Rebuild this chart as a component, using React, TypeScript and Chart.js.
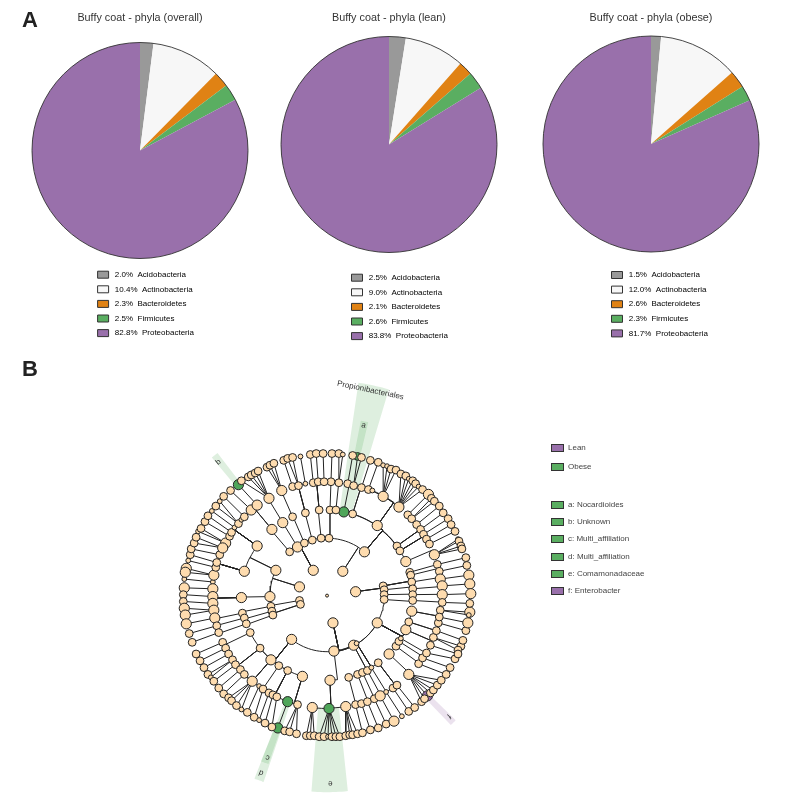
import React, { useEffect, useRef } from "react";
import { Chart, registerables } from "chart.js";

Chart.register(...registerables);

/* ---------- Panel A data ---------- */
const phylumNames = ["Acidobacteria", "Actinobacteria", "Bacteroidetes", "Firmicutes", "Proteobacteria"];
const phylumColors = ["#999999", "#f7f7f7", "#e08214", "#5aae61", "#9970ab"];
const overallShares = [2.0, 10.4, 2.3, 2.5, 82.8];
const leanShares = [2.5, 9.0, 2.1, 2.6, 83.8];
const obeseShares = [1.5, 12.0, 2.6, 2.3, 81.7];

/* ---------- Panel B data: taxa as [x, y, abundance class, children, enriched in] relative to the root ---------- */
type N = any[];
const rootTaxon: N = [0, 0, 0];

const cladeUpperRight: N = [16, -25, 3, [
  [2, -59, 2, [
    [3, -88, 2, [[4, -117, 2, [[5, -146, 2]]]]],
    [9, -88, 2, [[12, -116, 2, [[12, -146, 2], [16, -145, 1]]]]],
  ]],
  [38, -45, 3, [
    [17, -86, 3, [[21, -115, 2, [[26, -144, 2]]]], "O"],
    [26, -84, 2, [
      [27, -113, 2, [[31, -143, 2, [], "O"], [35, -142, 2]]],
      [35, -111, 2, [[44, -139, 2]]],
    ]],
    [51, -72, 3, [
      [42, -109, 2, [[52, -137, 2]]],
      [46, -108, 1],
      [57, -102, 3, [[57, -134, 1], [61, -133, 1], [65, -130, 2], [70, -129, 2]]],
      [73, -91, 3, [[75, -125, 2], [80, -123, 2], [83, -120, 1], [87, -118, 2], [90, -115, 2], [93, -112, 1], [97, -109, 2]]],
    ]],
    [71, -51, 2, [
      [82, -83, 2, [[103, -104, 3]]],
      [86, -79, 2, [[106, -100, 2], [109, -97, 2]]],
      [91, -73, 2, [[114, -92, 2]]],
    ]],
    [74, -46, 2, [
      [95, -68, 2, [[118, -85, 2]]],
      [98, -63, 2, [[123, -79, 2]]],
      [101, -58, 2, [[126, -73, 2]]],
      [104, -53, 2, [[130, -66, 2]]],
    ]],
    [80, -35, 3, [
      [109, -42, 3, [[133, -58, 1], [134, -56, 2], [136, -51, 2], [137, -48, 2]]],
    ]],
  ]],
]];

const cladeNearTop: N = [-14, -26, 3, [
  [-38, -45, 2, [[-56, -68, 3, [
    [-77, -88, 3, [[-98, -108, 2]]],
    [-71, -93, 3, [[-90, -114, 3, [], "O"]]],
  ]]]],
  [-30, -50, 3, [[-45, -75, 3, [[-59, -100, 3, [[-87, -118, 2], [-80, -122, 2], [-77, -124, 2], [-73, -126, 2], [-70, -128, 2]]]]]]],
  [-23, -54, 2, [[-35, -81, 2, [[-46, -108, 3, [[-61, -132, 2], [-58, -134, 2], [-54, -136, 2]]]]]]],
  [-15, -57, 2, [[-22, -85, 2, [
    [-35, -112, 2, [[-44, -139, 2]]],
    [-29, -113, 2, [[-40, -141, 2], [-35, -142, 2]]],
    [-22, -115, 1, [[-27, -143, 1]]],
  ]]]],
  [-6, -59, 2, [[-8, -88, 2, [
    [-14, -116, 2, [[-17, -145, 2]]],
    [-9, -117, 2, [[-11, -146, 2]]],
    [-3, -117, 2, [[-4, -146, 2]]],
  ]]]],
]];

const cladeLeft: N = [-28, -9, 3, [
  [-52, -26, 3, [
    [-71, -51, 3, [
      [-103, -54, 3, [[-131, -66, 1], [-128, -69, 2]]],
      [-99, -61, 2, [[-124, -76, 2]]],
      [-97, -65, 2, [[-121, -82, 2]]],
      [-94, -70, 1, [[-117, -87, 1]]],
      [-90, -74, 2, [[-113, -92, 2], [-109, -97, 1]]],
      [-87, -78, 1],
      [-84, -81, 2, [[-105, -102, 2]]],
    ]],
    [-84, -25, 3, [
      [-116, -14, 1, [[-145, -17, 1]]],
      [-115, -21, 3, [[-143, -28, 3], [-144, -24, 3]]],
      [-113, -29, 2, [[-141, -36, 1]]],
      [-112, -34, 2, [[-139, -42, 2]]],
      [-109, -42, 2, [[-138, -48, 2]]],
      [-106, -49, 3, [[-135, -54, 2], [-133, -60, 2]]],
    ]],
  ]],
  [-58, 1, 3, [[-87, 2, 3, [
    [-116, -7, 3, [[-145, -8, 3]]],
    [-116, 1, 3, [[-146, -1, 2]]],
    [-116, 8, 3, [[-146, 6, 2]]],
    [-115, 15, 3, [[-145, 13, 3], [-144, 20, 3]]],
  ]]]],
]];

const cladeLeftSmallA: N = [-28, 5, 2, [
  [-57, 11, 2, [[-86, 18, 2, [[-114, 23, 3, [[-143, 29, 3]]]]]]],
]];
const cladeLeftSmallB: N = [-27, 9, 2, [
  [-56, 16, 2, [[-84, 23, 2, [[-112, 31, 2, [[-140, 39, 2]]]]]]],
  [-55, 20, 2, [[-82, 29, 2, [[-110, 38, 2, [[-137, 48, 2]]]]]]],
]];

const cladeRight: N = [29, -4, 3, [
  [57, -10, 2, [
    [84, -24, 2, [[112, -32, 2, [[141, -39, 2]]]]],
    [85, -21, 2, [[114, -25, 2, [[142, -31, 2]]]]],
    [86, -14, 2, [[115, -17, 3, [[144, -21, 3]]]]],
  ]],
  [58, -6, 2, [[87, -7, 2, [[117, -10, 3, [[145, -12, 3]]]]]]],
  [58, -1, 2, [[87, -1, 2, [[117, -1, 3, [[146, -2, 3]]]]]]],
]];

const cladeBottom: N = [6, 28, 3, [
  [-36, 45, 3, [
    [-78, 38, 2, [[-106, 48, 2, [[-133, 60, 2]]]]],
    [-68, 54, 2, [
      [-103, 54, 2, [[-129, 67, 2]]],
      [-100, 60, 2, [[-125, 74, 2]]],
      [-96, 66, 2, [[-121, 81, 2], [-118, 84, 1]]],
    ]],
    [-57, 66, 3, [
      [-93, 71, 2, [[-115, 88, 2]]],
      [-88, 76, 2, [[-110, 95, 2]]],
      [-84, 81, 2, [[-105, 101, 2]]],
    ]],
    [-49, 72, 2, [[-76, 88, 3, [[-100, 105, 2], [-97, 108, 2], [-92, 113, 2], [-87, 117, 1]]]]],
    [-40, 77, 2, [
      [-69, 93, 1, [[-81, 120, 2]]],
      [-65, 96, 2, [[-74, 125, 2]]],
      [-59, 100, 2, [[-69, 128, 1]]],
      [-55, 102, 2, [[-63, 131, 2]]],
    ]],
    [-25, 83, 3, [
      [-51, 104, 2, [[-56, 135, 2]]],
      [-40, 109, 3, [[-50, 136, 3, [], "O"]], "O"],
      [-30, 112, 2, [[-43, 139, 2], [-38, 140, 2], [-31, 142, 2]]],
    ]],
  ]],
  [7, 57, 3, [[3, 87, 3, [
    [-15, 115, 3, [[-21, 144, 2], [-17, 144, 2], [-13, 144, 2]]],
    [2, 116, 3, [[-8, 145, 2], [-3, 145, 2], [1, 145, 1], [5, 145, 2], [9, 145, 2], [13, 145, 2]], "O"],
    [19, 114, 3, [[19, 144, 2], [23, 143, 2], [26, 143, 2], [31, 142, 2]]],
  ]]]],
  [27, 51, 3, [
    [22, 84, 2, [[29, 112, 2, [[36, 141, 2]]]]],
    [31, 81, 2, [[35, 111, 2, [[44, 138, 2]]]]],
  ]],
  [30, 49, 1, [
    [36, 79, 2, [[41, 109, 2, [[52, 136, 2]]]]],
    [41, 77, 2, [[48, 106, 2, [[60, 132, 2]]]]],
    [45, 74, 1, [[54, 103, 3, [[68, 129, 3]]]]],
    [52, 69, 2, [
      [60, 99, 1, [[76, 124, 1]]],
      [67, 95, 2, [[83, 119, 2]]],
      [71, 92, 2, [[89, 115, 2]]],
    ]],
  ]],
  [51, 28, 3, [
    [63, 60, 3, [[83, 81, 3, [[96, 109, 2], [99, 106, 2], [102, 103, 3, [], "L"], [105, 100, 2], [108, 97, 2], [112, 92, 2], [116, 87, 2]]]]],
    [70, 52, 2, [[93, 70, 2, [[121, 81, 2]]]]],
    [73, 47, 2, [[97, 64, 2, [[125, 74, 2]]]]],
    [75, 44, 1, [[101, 59, 2, [[130, 65, 2]]]]],
    [80, 35, 3, [
      [108, 43, 2, [[136, 52, 2], [133, 56, 2]]],
      [105, 51, 2, [[133, 60, 2]]],
    ]],
    [83, 27, 2, [
      [113, 28, 2, [[141, 36, 2]]],
      [111, 36, 2, [[138, 46, 2]]],
    ]],
    [86, 16, 3, [
      [115, 15, 2, [[145, 17, 3], [144, 20, 1]]],
      [114, 22, 2, [[143, 28, 3]]],
    ]],
  ]],
  [58, 4, 2, [[87, 5, 2, [[117, 7, 2, [[145, 8, 2]]]]]]],
]];

const clades = [cladeUpperRight, cladeNearTop, cladeLeft, cladeLeftSmallA, cladeLeftSmallB, cladeRight, cladeBottom];

/* highlighted bands: [from deg, to deg, inner, outer] */
const bandsObese = [
  [8.3, 16.5, 92, 221],
  [10.8, 13.2, 144, 183],
  [-39.5, -37.2, 146, 184],
  [199, 201.5, 145, 183],
  [198.6, 201.4, 116, 202],
  [174, 184.5, 116, 202],
];
const bandsLean = [[134.4, 136.6, 145, 183]];

/* clade labels: [text, angle deg, radius, font size] */
const cladeLabels: [string, number, number, number][] = [
  ["Propionibacteriales", 11.8, 215.5, 8],
  ["a", 12, 179, 8],
  ["b", -38.8, 176, 8],
  ["c", 199.9, 177, 8],
  ["d", 200.2, 194, 8],
  ["e", 179, 193, 8],
  ["f", 135, 175, 8],
];

const cladeLegend: [string, string, number][] = [
  ["Lean", "#9970ab", 448],
  ["Obese", "#5aae61", 467],
  ["a: Nocardioides", "#5aae61", 504.5],
  ["b: Unknown", "#5aae61", 522],
  ["c: Multi_affiliation", "#5aae61", 539],
  ["d: Multi_affiliation", "#5aae61", 556.5],
  ["e: Comamonadaceae", "#5aae61", 574],
  ["f: Enterobacter", "#9970ab", 591],
];

const FONT = "'Liberation Sans', Arial, sans-serif";
const TEXT = "#444";
const weightRadius = [1.5, 2.4, 3.9, 5.1];
const NODE_FILL = "#fedcaf";
const GREEN_NODE = "#4fa65a";
const PURPLE_NODE = "#9970ab";
const LINE = "#222";

/* ---------- Pie ---------- */
const ringPlugin = {
  id: "ring",
  afterDatasetsDraw(chart: any) {
    const arc = chart.getDatasetMeta(0).data[0];
    if (!arc) return;
    const { ctx } = chart;
    ctx.save();
    ctx.strokeStyle = "#333";
    ctx.lineWidth = 0.9;
    ctx.beginPath();
    ctx.arc(arc.x, arc.y, arc.outerRadius, 0, Math.PI * 2);
    ctx.stroke();
    ctx.restore();
  },
};

function Pie(props: { title: string; values: number[]; cx: number; top: number; bottom: number; legendX: number; legendY: number }) {
  const { title, values, cx, top, bottom, legendX, legendY } = props;
  const ref = useRef<HTMLCanvasElement>(null);
  const W = 262;
  const H = 350;
  const left = cx - W / 2;
  useEffect(() => {
    const placeLegend = {
      id: "placeLegend",
      afterLayout(chart: any) {
        const l = chart.legend;
        l.left = legendX - left - 6.6;
        l.right = l.left + 160;
        l.top = legendY - 10.6;
        l.bottom = l.top + 90;
      },
    };
    const chart = new Chart(ref.current!, {
      type: "pie",
      data: {
        labels: phylumNames,
        datasets: [{ data: values, backgroundColor: phylumColors, borderWidth: 0 }],
      },
      options: {
        animation: false,
        responsive: false,
        layout: { padding: { top: 11.5, bottom: H - bottom, left: (W - (bottom - top)) / 2, right: (W - (bottom - top)) / 2 } },
        plugins: {
          tooltip: { enabled: false },
          title: {
            display: true,
            text: title,
            color: "#333",
            font: { family: FONT, size: 10.8, weight: "normal", lineHeight: 1.2 },
            padding: { top: 0, bottom: top - 11.5 - 10.8 * 1.2 },
          },
          legend: {
            position: "chartArea" as any,
            align: "start",
            labels: {
              boxWidth: 11,
              boxHeight: 7,
              padding: 6.6,
              color: TEXT,
              font: { family: FONT, size: 8 },
              generateLabels: () =>
                phylumNames.map((name, i) => ({
                  text: ` ${values[i].toFixed(1)}%  ${name}`,
                  fillStyle: phylumColors[i],
                  strokeStyle: "#333",
                  lineWidth: 1,
                  hidden: false,
                  index: i,
                })),
            },
          },
        },
      } as any,
      plugins: [ringPlugin, placeLegend],
    });
    return () => chart.destroy();
  }, []);
  return <canvas ref={ref} width={W} height={H} style={{ position: "absolute", left, top: 0, width: W, height: H }} />;
}

/* ---------- Cladogram ---------- */
const edgePoints: { x: number; y: number }[] = [];
const plainNodes: any[] = [];
const obeseNodes: any[] = [];
const leanNodes: any[] = [];

function addEdge(p: N, c: N, level: number) {
  edgePoints.push({ x: p[0], y: p[1] });
  if (level <= 4) {
    const cr = Math.hypot(c[0], c[1]);
    const pa = Math.atan2(p[1], p[0]);
    const ca = Math.atan2(c[1], c[0]);
    let d = ca - pa;
    if (d > Math.PI) d -= 2 * Math.PI;
    if (d < -Math.PI) d += 2 * Math.PI;
    const steps = Math.max(1, Math.ceil(Math.abs(d) / 0.05));
    for (let i = 0; i <= steps; i++) {
      const a = pa + (d * i) / steps;
      edgePoints.push({ x: cr * Math.cos(a), y: cr * Math.sin(a) });
    }
  }
  edgePoints.push({ x: c[0], y: c[1] });
  edgePoints.push({ x: NaN, y: NaN });
}

function walk(node: N, level: number) {
  const [x, y, w = 2, kids = [], group] = node;
  const bucket = group === "O" ? obeseNodes : group === "L" ? leanNodes : plainNodes;
  bucket.push({ x, y, r: weightRadius[w] });
  for (const k of kids) {
    addEdge(node, k, level + 1);
    walk(k, level + 1);
  }
}
walk(rootTaxon, 0);
clades.forEach((c) => walk(c, 1));

function bandShape(b: number[]) {
  const [from, to, inner, outer] = b;
  const pts: { x: number; y: number }[] = [];
  const at = (deg: number, r: number) => {
    const a = (deg * Math.PI) / 180;
    return { x: r * Math.sin(a), y: -r * Math.cos(a) };
  };
  const n = 12;
  for (let i = 0; i <= n; i++) pts.push(at(from + ((to - from) * i) / n, outer));
  for (let i = n; i >= 0; i--) pts.push(at(from + ((to - from) * i) / n, inner));
  pts.push(pts[0]);
  return pts;
}

const labelPlugin = {
  id: "cladeLabels",
  afterDatasetsDraw(chart: any) {
    const { ctx, scales } = chart;
    ctx.save();
    ctx.fillStyle = "#333";
    ctx.textAlign = "center";
    ctx.textBaseline = "middle";
    for (const [text, deg, r, size] of cladeLabels) {
      const a = (deg * Math.PI) / 180;
      ctx.save();
      ctx.translate(scales.x.getPixelForValue(r * Math.sin(a)), scales.y.getPixelForValue(-r * Math.cos(a)));
      ctx.rotate(a);
      ctx.font = `${size}px ${FONT}`;
      ctx.fillText(text, 0, 0);
      ctx.restore();
    }
    ctx.restore();
  },
};

function nodeDataset(label: string, data: any[], fill: string) {
  return {
    label,
    data,
    order: 1,
    showLine: false,
    pointRadius: data.map((d) => d.r),
    pointBackgroundColor: fill,
    pointBorderColor: LINE,
    pointBorderWidth: 1,
  };
}

function Cladogram() {
  const ref = useRef<HTMLCanvasElement>(null);
  const W = 787;
  const H = 453;
  useEffect(() => {
    const bands = [
      ...bandsObese.map((b) => ({ b, c: "rgba(90,174,97,0.2)" })),
      ...bandsLean.map((b) => ({ b, c: "rgba(153,112,171,0.2)" })),
    ].map(({ b, c }) => ({
      data: bandShape(b),
      order: 5,
      showLine: true,
      fill: "shape",
      backgroundColor: c,
      borderWidth: 0,
      pointRadius: 0,
      tension: 0,
    }));
    const chart = new Chart(ref.current!, {
      type: "scatter",
      data: {
        datasets: [
          ...bands,
          { data: edgePoints, order: 3, showLine: true, spanGaps: false, borderColor: LINE, borderWidth: 1, pointRadius: 0, tension: 0 },
          nodeDataset("Taxa", plainNodes, NODE_FILL),
          nodeDataset("Obese", obeseNodes, GREEN_NODE),
          nodeDataset("Lean", leanNodes, PURPLE_NODE),
        ],
      } as any,
      options: {
        animation: false,
        responsive: false,
        layout: { padding: 0 },
        scales: {
          x: { type: "linear", display: false, min: -326, max: 461 },
          y: { type: "linear", display: false, min: -241, max: 212, reverse: true },
        },
        plugins: { legend: { display: false }, tooltip: { enabled: false }, title: { display: false } },
      } as any,
      plugins: [labelPlugin],
    });
    return () => chart.destroy();
  }, []);
  return <canvas ref={ref} width={W} height={H} style={{ position: "absolute", left: 0, top: 355, width: W, height: H }} />;
}

const panelLetter = (t: string, top: number) => (
  <div style={{ position: "absolute", left: 22, top, font: `bold 22px/22px ${FONT}`, color: "#222" }}>{t}</div>
);

export default function App() {
  useEffect(() => {
    document.body.style.margin = "0";
  }, []);
  return (
    <div style={{ position: "relative", width: 787, height: 808, overflow: "hidden", background: "#fff", fontFamily: FONT }}>
      <Cladogram />
      <Pie title="Buffy coat - phyla (overall)" values={overallShares} cx={140.4} top={42.5} bottom={258.5} legendX={98} legendY={274.7} />
      <Pie title="Buffy coat - phyla (lean)" values={leanShares} cx={389} top={36.5} bottom={252.5} legendX={351.5} legendY={277.7} />
      <Pie title="Buffy coat - phyla (obese)" values={obeseShares} cx={651} top={36} bottom={252} legendX={611.5} legendY={275} />
      {panelLetter("A", 9)}
      {panelLetter("B", 358)}
      {cladeLegend.map(([t, c, y]) => (
        <React.Fragment key={t}>
          <div style={{ position: "absolute", left: 551, top: y - 4, width: 10.5, height: 6, background: c, border: "1px solid #333" }} />
          <div style={{ position: "absolute", left: 568, top: y - 6, font: `8px/12px ${FONT}`, color: TEXT, whiteSpace: "nowrap" }}>{t}</div>
        </React.Fragment>
      ))}
    </div>
  );
}
